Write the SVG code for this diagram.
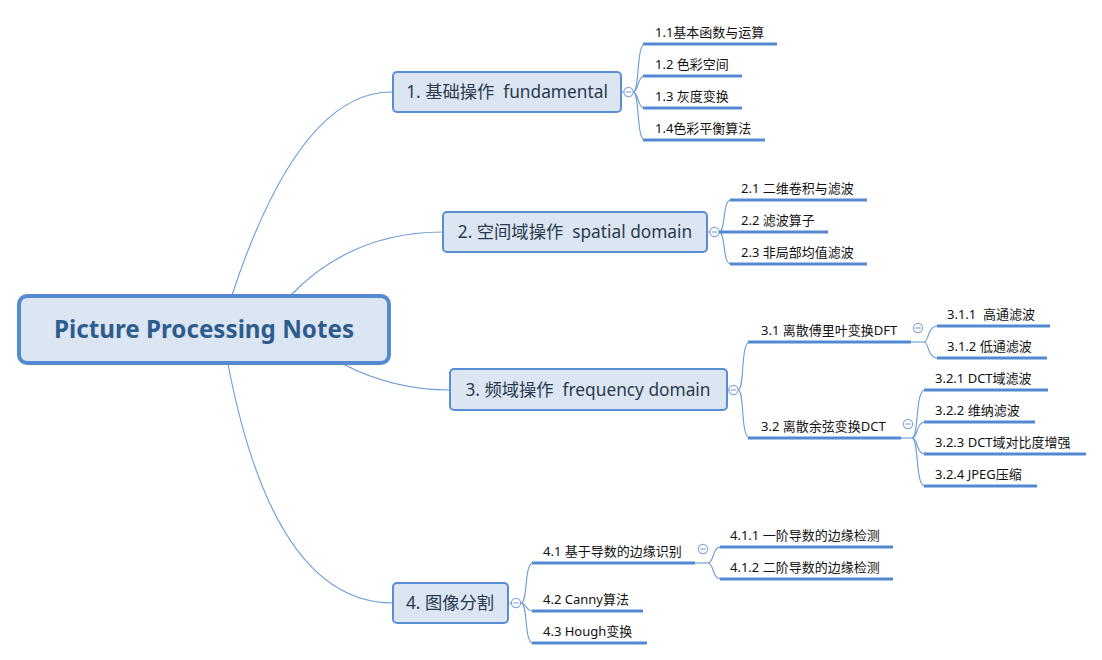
<svg xmlns="http://www.w3.org/2000/svg" width="1102" height="660" viewBox="0 0 1102 660">
<style>
.bg{fill:#ffffff}
.conn{fill:none;stroke:#6b9bd8;stroke-width:1.1}
.ul{fill:none;stroke:#5289d1;stroke-width:3}
.root rect{fill:#dce6f2;stroke:#5589d0;stroke-width:4}
.root text{font-family:"Noto Sans","Open Sans","Noto Sans CJK SC",sans-serif;font-weight:700;font-size:24.2px;fill:#2f5c8f}
.l1 rect{fill:#dce6f2;stroke:#5a8ed4;stroke-width:2}
.l1 text{font-family:"Noto Sans","Noto Sans CJK SC",sans-serif;font-size:17.3px;fill:#2a3a4e}
.tog circle{fill:#ffffff;stroke:#86a8da;stroke-width:1.2}
.tog line{stroke:#86a8da;stroke-width:1.2}
.l2 text{font-family:"Noto Sans","Noto Sans CJK SC",sans-serif;font-size:13px;fill:#111111}
</style>
<rect class="bg" x="0" y="0" width="1102" height="660"/>
<g id="connectors">
  <path class="conn" d="M232 295 Q300 90 393 92"/>
  <path class="conn" d="M291 295 Q352 232 443 232"/>
  <path class="conn" d="M343 364 Q393 390 450 390"/>
  <path class="conn" d="M228 364 Q274 603 393 603"/>
  <line class="conn" x1="621" y1="92" x2="624" y2="92"/>
  <path class="conn" d="M633 92 C640 92 636 44 645 44"/>
  <path class="conn" d="M633 92 C639 92 637 76 645 76"/>
  <path class="conn" d="M633 92 C639 92 637 108 645 108"/>
  <path class="conn" d="M633 92 C640 92 636 140 645 140"/>
  <line class="conn" x1="707" y1="232" x2="710" y2="232"/>
  <path class="conn" d="M719 232 C726 232 722 200 731 200"/>
  <path class="conn" d="M719 232 C726 232 722 264 731 264"/>
  <line class="conn" x1="727" y1="390" x2="729" y2="390"/>
  <path class="conn" d="M738 390 C745 390 740 342 750 342"/>
  <path class="conn" d="M738 390 C745 390 740 438 750 438"/>
  <line class="conn" x1="910" y1="342" x2="924" y2="342"/>
  <path class="conn" d="M924 342 C929 342 927 326 938 326"/>
  <path class="conn" d="M924 342 C929 342 927 358 938 358"/>
  <line class="conn" x1="900" y1="438" x2="912" y2="438"/>
  <path class="conn" d="M912 438 C919 438 915 390 925 390"/>
  <path class="conn" d="M912 438 C918 438 916 422 925 422"/>
  <path class="conn" d="M912 438 C918 438 916 454 925 454"/>
  <path class="conn" d="M912 438 C919 438 915 486 925 486"/>
  <line class="conn" x1="508" y1="603" x2="511" y2="603"/>
  <path class="conn" d="M521 603 C528 603 524 563 533 563"/>
  <path class="conn" d="M521 603 C527 603 525 611 533 611"/>
  <path class="conn" d="M521 603 C528 603 524 643 533 643"/>
  <line class="conn" x1="694" y1="563" x2="708" y2="563"/>
  <path class="conn" d="M708 563 C714 563 712 547 721 547"/>
  <path class="conn" d="M708 563 C714 563 712 579 721 579"/>
</g>

<g id="root" class="root">
  <rect x="19" y="296" width="370" height="67" rx="8"/>
  <text x="204" y="338" text-anchor="middle">Picture Processing Notes</text>
</g>

<g id="n1" class="l1">
  <rect x="393" y="72" width="228" height="40" rx="4"/>
  <text x="507" y="98" text-anchor="middle">1. 基础操作 &#160;fundamental</text>
</g>
<g id="n2" class="l1">
  <rect x="443" y="212" width="264" height="40" rx="4"/>
  <text x="575" y="238" text-anchor="middle">2. 空间域操作 &#160;spatial domain</text>
</g>
<g id="n3" class="l1">
  <rect x="450" y="369" width="277" height="41" rx="4"/>
  <text x="588" y="396" text-anchor="middle">3. 频域操作 &#160;frequency domain</text>
</g>
<g id="n4" class="l1">
  <rect x="393" y="583" width="115" height="40" rx="4"/>
  <text x="450" y="609" text-anchor="middle">4. 图像分割</text>
</g>

<g id="toggles" class="tog">
  <g id="t1"><circle cx="628.5" cy="92" r="4.6"/><line x1="625.8" y1="92" x2="631.2" y2="92"/></g>
  <g id="t2"><circle cx="714.5" cy="232" r="4.6"/><line x1="711.8" y1="232" x2="717.2" y2="232"/></g>
  <g id="t3"><circle cx="733.5" cy="390" r="4.6"/><line x1="730.8" y1="390" x2="736.2" y2="390"/></g>
  <g id="t31"><circle cx="918" cy="328" r="4.6"/><line x1="915.3" y1="328" x2="920.7" y2="328"/></g>
  <g id="t32"><circle cx="908" cy="424" r="4.6"/><line x1="905.3" y1="424" x2="910.7" y2="424"/></g>
  <g id="t4"><circle cx="516" cy="603" r="4.6"/><line x1="513.3" y1="603" x2="518.7" y2="603"/></g>
  <g id="t41"><circle cx="703" cy="549" r="4.6"/><line x1="700.3" y1="549" x2="705.7" y2="549"/></g>
</g>

<g id="n1-1" class="l2"><line class="ul" x1="643" y1="44" x2="777" y2="44"/><text x="655" y="37">1.1基本函数与运算</text></g>
<g id="n1-2" class="l2"><line class="ul" x1="643" y1="76" x2="742" y2="76"/><text x="655" y="69">1.2 色彩空间</text></g>
<g id="n1-3" class="l2"><line class="ul" x1="643" y1="108" x2="742" y2="108"/><text x="655" y="101">1.3 灰度变换</text></g>
<g id="n1-4" class="l2"><line class="ul" x1="643" y1="140" x2="765" y2="140"/><text x="655" y="133">1.4色彩平衡算法</text></g>

<g id="n2-1" class="l2"><line class="ul" x1="730" y1="200" x2="867" y2="200"/><text x="741" y="193">2.1 二维卷积与滤波</text></g>
<g id="n2-2" class="l2"><line class="ul" x1="719" y1="232" x2="828" y2="232"/><text x="741" y="225">2.2 滤波算子</text></g>
<g id="n2-3" class="l2"><line class="ul" x1="730" y1="264" x2="867" y2="264"/><text x="741" y="257">2.3 非局部均值滤波</text></g>

<g id="n3-1" class="l2"><line class="ul" x1="748" y1="342" x2="911" y2="342"/><text x="761" y="335">3.1 离散傅里叶变换DFT</text></g>
<g id="n3-1-1" class="l2"><line class="ul" x1="937" y1="326" x2="1050" y2="326"/><text x="947" y="319">3.1.1 &#160;高通滤波</text></g>
<g id="n3-1-2" class="l2"><line class="ul" x1="937" y1="358" x2="1047" y2="358"/><text x="947" y="351">3.1.2 低通滤波</text></g>
<g id="n3-2" class="l2"><line class="ul" x1="748" y1="438" x2="901" y2="438"/><text x="761" y="431">3.2 离散余弦变换DCT</text></g>
<g id="n3-2-1" class="l2"><line class="ul" x1="924" y1="390" x2="1048" y2="390"/><text x="935" y="383">3.2.1 DCT域滤波</text></g>
<g id="n3-2-2" class="l2"><line class="ul" x1="924" y1="422" x2="1035" y2="422"/><text x="935" y="415">3.2.2 维纳滤波</text></g>
<g id="n3-2-3" class="l2"><line class="ul" x1="924" y1="454" x2="1086" y2="454"/><text x="935" y="447">3.2.3 DCT域对比度增强</text></g>
<g id="n3-2-4" class="l2"><line class="ul" x1="924" y1="486" x2="1037" y2="486"/><text x="935" y="479">3.2.4 JPEG压缩</text></g>

<g id="n4-1" class="l2"><line class="ul" x1="532" y1="563" x2="695" y2="563"/><text x="543" y="556">4.1 基于导数的边缘识别</text></g>
<g id="n4-1-1" class="l2"><line class="ul" x1="720" y1="547" x2="893" y2="547"/><text x="730" y="540">4.1.1 一阶导数的边缘检测</text></g>
<g id="n4-1-2" class="l2"><line class="ul" x1="720" y1="579" x2="893" y2="579"/><text x="730" y="572">4.1.2 二阶导数的边缘检测</text></g>
<g id="n4-2" class="l2"><line class="ul" x1="532" y1="611" x2="643" y2="611"/><text x="543" y="604">4.2 Canny算法</text></g>
<g id="n4-3" class="l2"><line class="ul" x1="532" y1="643" x2="647" y2="643"/><text x="543" y="636">4.3 Hough变换</text></g>
</svg>
